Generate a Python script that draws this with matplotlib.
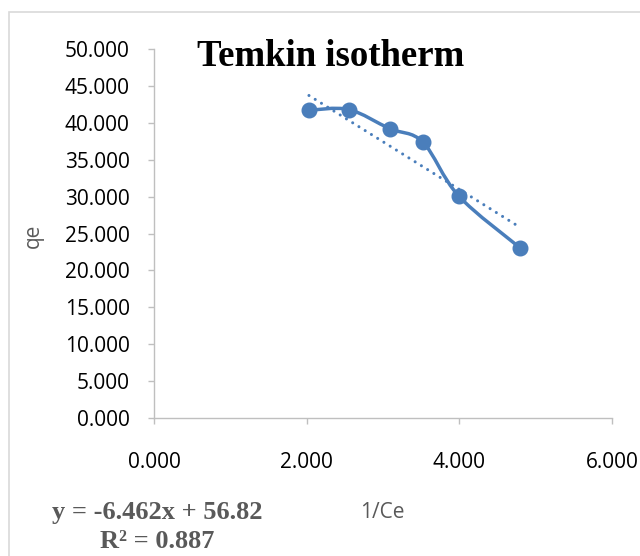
import matplotlib
matplotlib.use("Agg")
import matplotlib.pyplot as plt
from matplotlib.path import Path
from matplotlib.patches import PathPatch, Rectangle
import numpy as np

# ---------------------------------------------------------------------------
# Data
# ---------------------------------------------------------------------------
inv_ce = [2.03, 2.55, 3.09, 3.52, 3.99, 4.79]
qe = [41.7, 41.8, 39.2, 37.4, 30.1, 23.1]

slope = -6.462
intercept = 56.82
r2 = 0.887

x_ticks = [0, 2, 4, 6]
y_ticks = [0, 5, 10, 15, 20, 25, 30, 35, 40, 45, 50]

BLUE = "#4A7EBB"
GRAY_TXT = "#595959"
AXIS_GRAY = "#BFBFBF"
TICK_FONT = "Open Sans"
SERIF = "Liberation Serif"

fig = plt.figure(figsize=(6.4, 5.56), dpi=100)
ax = fig.add_axes([154 / 640, 1 - 418 / 556, (612 - 154) / 640, (418 - 49) / 556])

# chart frame (light grey, runs off right/bottom edges)
fig.patches.append(Rectangle((9 / 640, -0.1), 1.2, 1 - 12 / 556 + 0.1,
                             transform=fig.transFigure, fill=False,
                             edgecolor="#D9D9D9", linewidth=1.2))


def smooth_path(xs, ys):
    """Excel-like smoothed line: Catmull-Rom segments as cubic Beziers."""
    pts = np.column_stack([xs, ys])
    ext = np.vstack([pts[0], pts, pts[-1]])
    verts = [pts[0]]
    codes = [Path.MOVETO]
    for i in range(len(pts) - 1):
        p0, p1, p2, p3 = ext[i], ext[i + 1], ext[i + 2], ext[i + 3]
        verts += [p1 + (p2 - p0) / 6, p2 - (p3 - p1) / 6, p2]
        codes += [Path.CURVE4] * 3
    return Path(verts, codes)


ax.add_patch(PathPatch(smooth_path(inv_ce, qe), facecolor="none",
                       edgecolor=BLUE, linewidth=2.5, capstyle="round",
                       joinstyle="round", zorder=3))
ax.plot(inv_ce, qe, linestyle="none", marker="o", markersize=10.5,
        color=BLUE, zorder=4)

# linear trendline (dotted)
tx = np.array([min(inv_ce), max(inv_ce)])
ax.plot(tx, slope * tx + intercept, color=BLUE, linewidth=2.2,
        linestyle=(0, (0.01, 2.4)), dash_capstyle="round", zorder=2)

ax.set_xlim(0, 6)
ax.set_ylim(0, 50)
ax.set_xticks(x_ticks)
ax.set_yticks(y_ticks)
ax.set_xticklabels([f"{v:.3f}" for v in x_ticks], fontfamily=TICK_FONT, fontsize=15)
ax.set_yticklabels([f"{v:.3f}" for v in y_ticks], fontfamily=TICK_FONT, fontsize=15)
ax.tick_params(axis="both", direction="out", length=4.5, width=1,
               color=AXIS_GRAY, labelcolor="black")
ax.tick_params(axis="x", pad=20)
ax.tick_params(axis="y", pad=13)

for side in ("top", "right"):
    ax.spines[side].set_visible(False)
for side in ("left", "bottom"):
    ax.spines[side].set_color(AXIS_GRAY)
    ax.spines[side].set_linewidth(1)

# axis titles
fig.text(33 / 640, 1 - 236 / 556, "qe", rotation=90, ha="center", va="center",
         fontfamily=TICK_FONT, fontsize=15, color=GRAY_TXT)
fig.text(382 / 640, 1 - 513 / 556, "1/Ce", ha="center", va="center",
         fontfamily=TICK_FONT, fontsize=15, color=GRAY_TXT)

# chart title
fig.text(331 / 640, 1 - 66 / 556, "Temkin isotherm", ha="center", va="baseline",
         fontfamily=SERIF, fontweight="bold", fontsize=26.5, color="black")

# trendline equation
fig.text(52 / 640, 1 - 512 / 556, f"y = {slope}x + {intercept}", ha="left",
         va="center", fontfamily=SERIF, fontweight="bold", fontsize=19,
         color=GRAY_TXT)
fig.text(100 / 640, 1 - 541 / 556, f"R² = {r2}", ha="left", va="center",
         fontfamily=SERIF, fontweight="bold", fontsize=19, color=GRAY_TXT)

fig.savefig("out.png", dpi=100, facecolor="white")
